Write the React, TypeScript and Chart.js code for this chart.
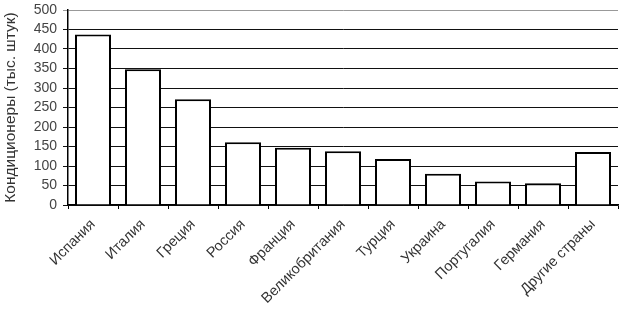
import React, { useEffect, useRef } from "react";
import { Chart, registerables } from "chart.js";

Chart.register(...registerables);

const categories = [
  "Испания",
  "Италия",
  "Греция",
  "Россия",
  "Франция",
  "Великобритания",
  "Турция",
  "Украина",
  "Португалия",
  "Германия",
  "Другие страны",
];
const values = [437, 348, 271, 161, 147, 138, 118, 80, 60, 56, 136];
const yTitle = "Кондиционеры (тыс. штук)";
const yTicks = [0, 50, 100, 150, 200, 250, 300, 350, 400, 450, 500];
const yMin = 0;
const yMax = 500;

export default function App() {
  const ref = useRef<HTMLCanvasElement | null>(null);
  useEffect(() => {
    if (!ref.current) return;
    const chart = new Chart(ref.current, {
      type: "bar",
      data: {
        labels: categories,
        datasets: [
          {
            data: values,
            backgroundColor: "#ffffff",
            borderColor: "#000000",
            borderWidth: 2,
            barPercentage: 0.72,
            categoryPercentage: 1,
          },
        ],
      },
      options: {
        animation: false,
        responsive: false,
        maintainAspectRatio: false,
        layout: { padding: { top: 10, right: 1, left: 0, bottom: 0 } },
        plugins: { legend: { display: false }, tooltip: { enabled: false } },
        scales: {
          x: {
            offset: true,
            afterFit: (s: any) => {
              s.height = 104;
              s.paddingLeft = 0;
              s.paddingRight = 0;
            },
            grid: {
              offset: true,
              drawOnChartArea: false,
              drawTicks: true,
              tickLength: 4,
              color: "#000",
            },
            border: { display: true, color: "#000", width: 1.5 },
            ticks: {
              minRotation: 45,
              maxRotation: 45,
              color: "#333",
              font: { family: "Liberation Sans", size: 14.5 },
              padding: 7,
            },
          },
          y: {
            min: yMin,
            max: yMax,
            afterFit: (s: any) => {
              s.width = 68;
              s.paddingTop = 0;
              s.paddingBottom = 0;
            },
            afterBuildTicks: (s: any) => {
              s.ticks = yTicks.map((v) => ({ value: v }));
            },
            grid: {
              color: (ctx: any) => (ctx.tick && ctx.tick.value === yMax ? "#999" : "#111"),
              lineWidth: 1,
              tickLength: 5,
            },
            border: { display: true, color: "#000", width: 1.5 },
            ticks: {
              autoSkip: false,
              color: "#444",
              font: { family: "Liberation Sans", size: 14 },
              padding: 6,
            },
            title: {
              display: true,
              text: yTitle,
              color: "#333",
              font: { family: "Liberation Sans", size: 15.5 },
              padding: { top: 1, bottom: 1 },
            },
          },
        },
      },
    });
    return () => chart.destroy();
  }, []);
  return (
    <div style={{ position: "fixed", left: 0, top: 0, width: 619, height: 309, background: "#fff" }}>
      <canvas ref={ref} width={619} height={309} style={{ width: 619, height: 309, display: "block" }} />
    </div>
  );
}
